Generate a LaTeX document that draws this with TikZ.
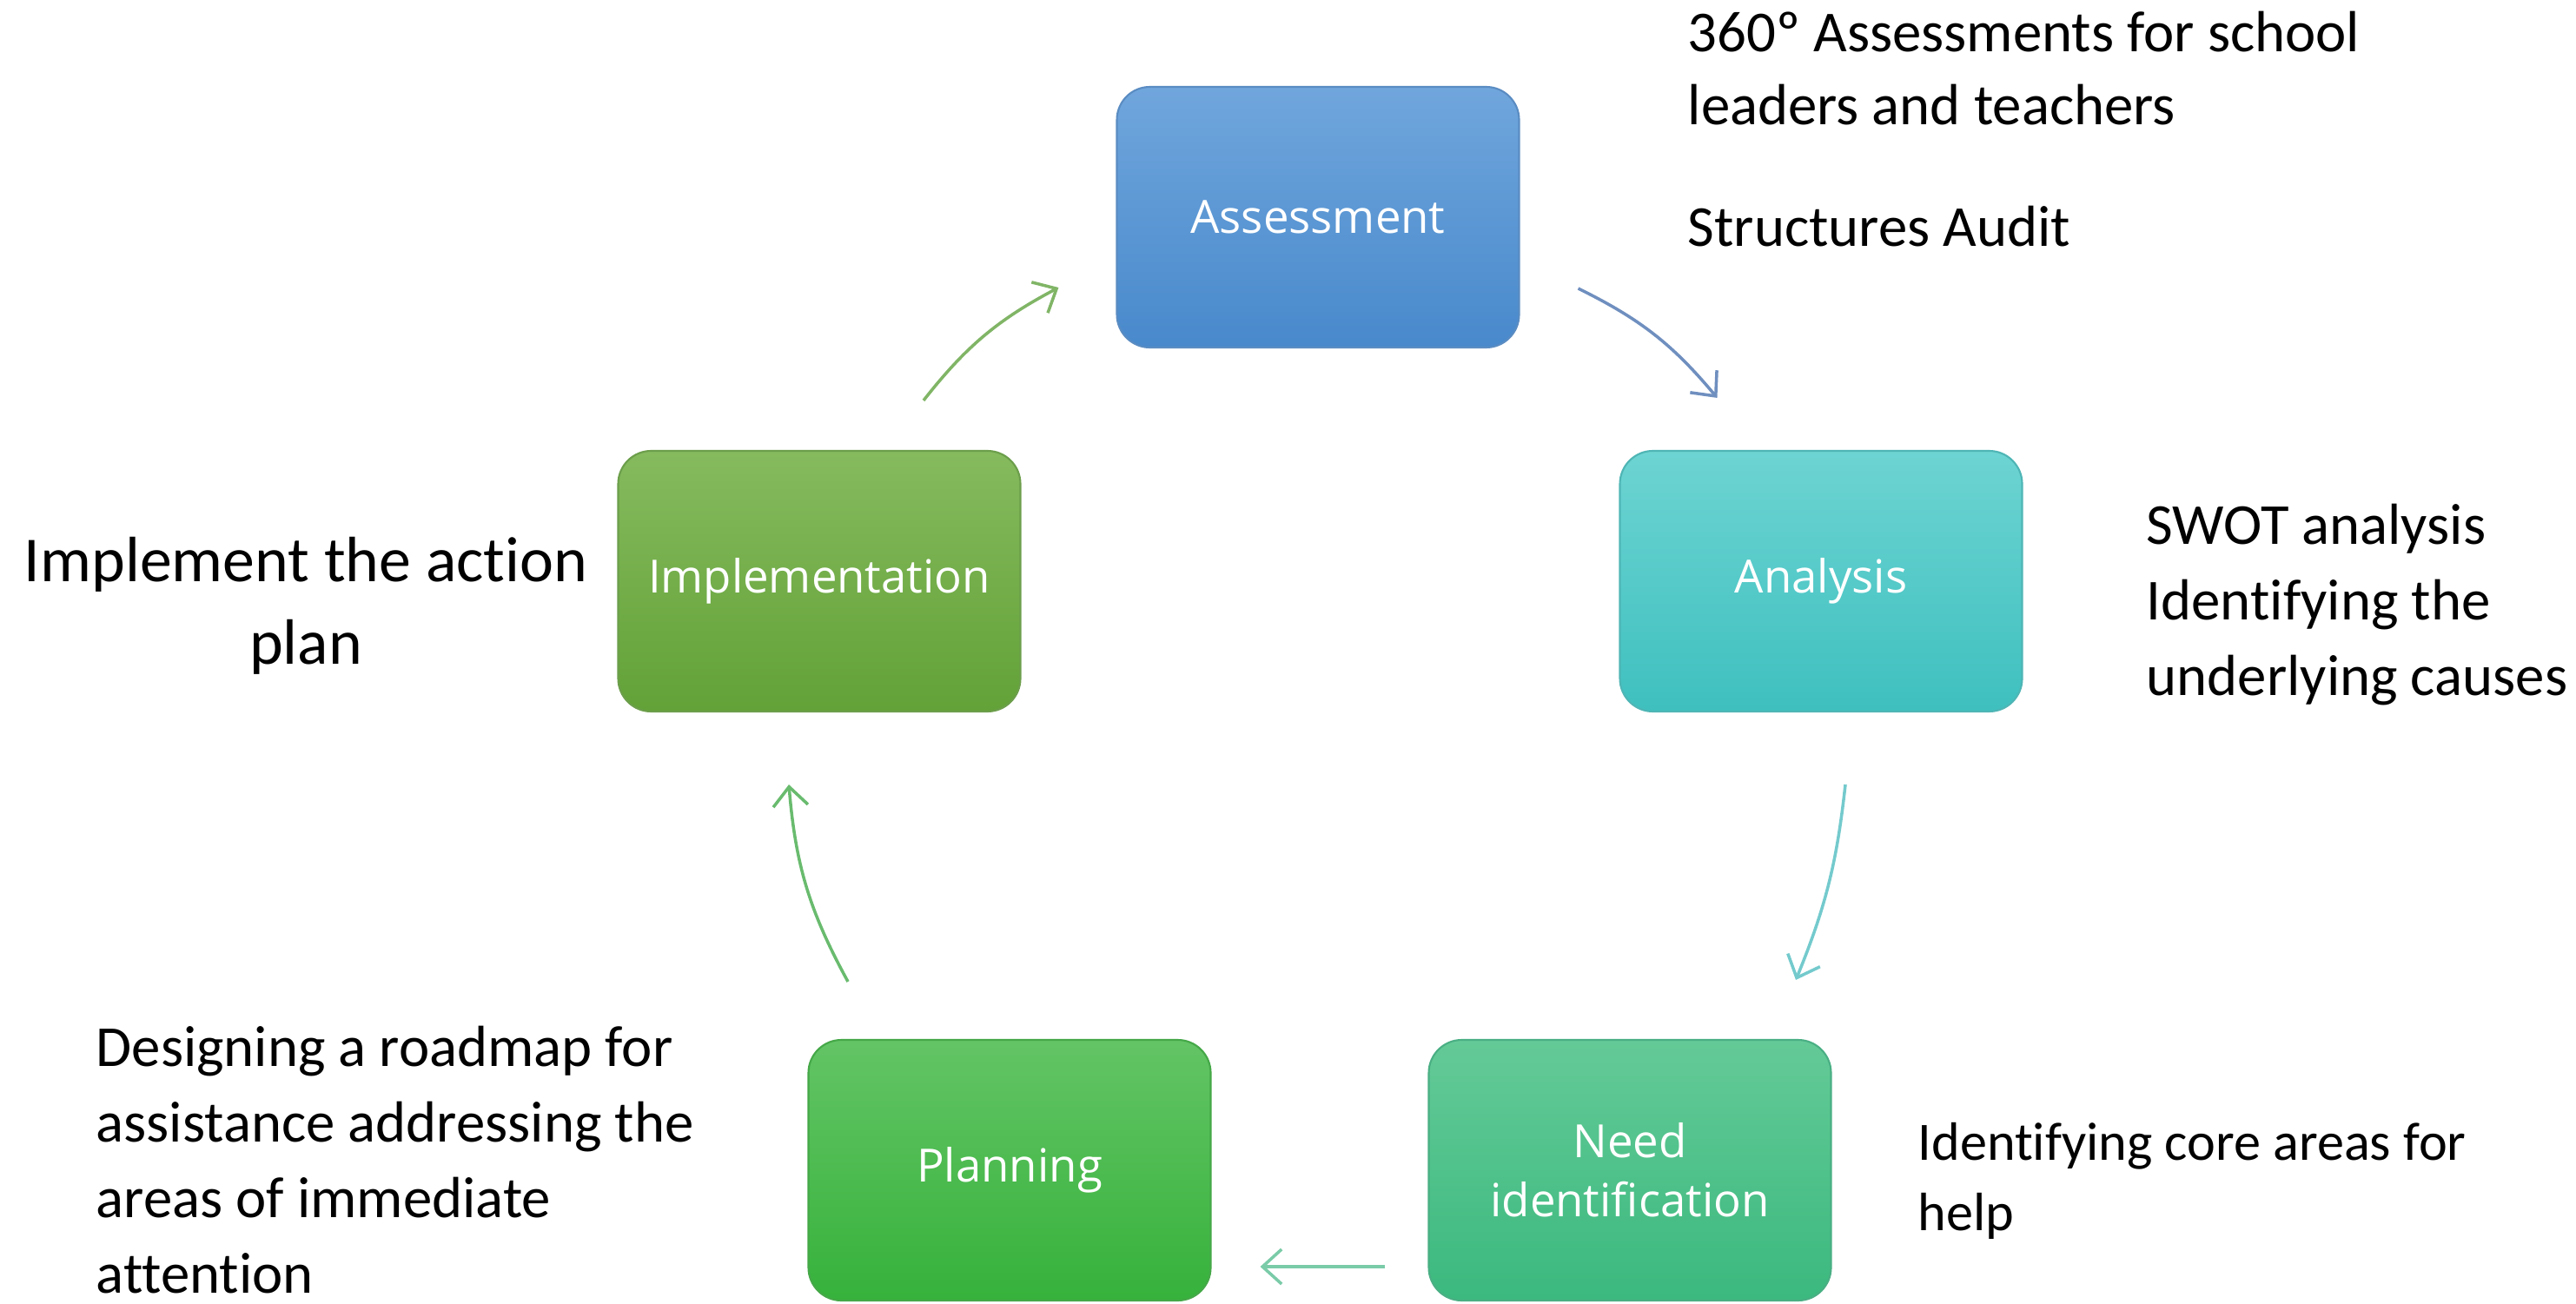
\documentclass[tikz,border=0pt]{standalone}
\usepackage{fontspec}
\setmainfont{Carlito}[Ligatures=NoCommon]
\newfontfamily\boxfont{Open Sans}
\usetikzlibrary{arrows.meta,calc}
\definecolor{asTop}{HTML}{70A6DC}\definecolor{asBot}{HTML}{4889CC}\definecolor{asEdge}{HTML}{5A8CC2}
\definecolor{anTop}{HTML}{6DD4D2}\definecolor{anBot}{HTML}{3EC0BF}\definecolor{anEdge}{HTML}{4FB5B5}
\definecolor{neTop}{HTML}{64CA97}\definecolor{neBot}{HTML}{3BB97E}\definecolor{neEdge}{HTML}{4AAF84}
\definecolor{plTop}{HTML}{63C465}\definecolor{plBot}{HTML}{36B23B}\definecolor{plEdge}{HTML}{45A848}
\definecolor{imTop}{HTML}{86BA5E}\definecolor{imBot}{HTML}{62A237}\definecolor{imEdge}{HTML}{6C9E4B}
\definecolor{arA}{HTML}{6F8FBF}\definecolor{arB}{HTML}{74CACD}\definecolor{arC}{HTML}{7ACBA8}
\definecolor{arD}{HTML}{69BB6E}\definecolor{arE}{HTML}{80B566}
\begin{document}
\begin{tikzpicture}[
  stage/.style={rounded corners=0.38cm, minimum width=4.63cm, minimum height=3.0cm,
    inner sep=0pt, align=center, text=white, line width=0.6pt,
    font=\boxfont\fontsize{15}{19.3}\selectfont},
  note/.style={inner sep=0pt, align=left, text=black},
  cyc/.style={line width=1pt, -{Straight Barb[length=0.22cm,width=0.4cm,line width=1pt]}}
]
\useasboundingbox (0,0) rectangle (29.65,15);

% stages
\node[stage, top color=asTop, bottom color=asBot, draw=asEdge] (A) at (15.17,12.50) {Assessment};
\node[stage, top color=anTop, bottom color=anBot, draw=anEdge] (B) at (20.96,8.31) {Analysis};
\node[stage, top color=neTop, bottom color=neBot, draw=neEdge] (C) at (18.76,1.53) {Need\\identification};
\node[stage, top color=plTop, bottom color=plBot, draw=plEdge] (D) at (11.62,1.53) {Planning};
\node[stage, top color=imTop, bottom color=imBot, draw=imEdge] (E) at (9.43,8.31) {Implementation};

% connector end points
\coordinate (a1) at ($(A.south east)+(0.67,0.69)$);
\coordinate (a2) at ($(B.north west)+(1.13,0.60)$);
\coordinate (b1) at ($(B.south)+(0.28,-0.83)$);
\coordinate (b2) at ($(C.north)+(1.91,0.68)$);
\coordinate (c1) at ($(C.west)+(-0.49,-1.11)$);
\coordinate (c2) at ($(D.east)+(0.56,-1.11)$);
\coordinate (d1) at ($(D.north)+(-1.86,0.66)$);
\coordinate (d2) at ($(E.south)+(-0.35,-0.83)$);
\coordinate (e1) at ($(E.north)+(1.20,0.57)$);
\coordinate (e2) at ($(A.west)+(-0.66,-0.81)$);

\draw[cyc, arA] (a1) to[bend left=12] (a2);
\draw[cyc, arB] (b1) to[bend left=8] (b2);
\draw[cyc, arC] (c1) -- (c2);
\draw[cyc, arD] (d1) to[bend left=12] (d2);
\draw[cyc, arE] (e1) to[bend left=12] (e2);

% annotations (anchor = baseline of the last line)
\node[note, anchor=base west, font=\fontsize{19}{24.1}\selectfont] (tA) at (19.42,13.56)
  {360º Assessments for school\\leaders and teachers};
\node[note, anchor=base west, font=\fontsize{19}{24.1}\selectfont] (tA2) at (19.42,12.16)
  {Structures Audit};
\node[note, anchor=base west, font=\fontsize{19}{24.7}\selectfont] (tB) at (24.70,7.00)
  {SWOT analysis\\Identifying the\\underlying causes};
\node[note, anchor=base west, font=\fontsize{17.7}{23}\selectfont] (tC) at (22.07,0.84)
  {Identifying core areas for\\help};
\node[note, anchor=base west, font=\fontsize{19}{24.7}\selectfont] (tD) at (1.10,0.12)
  {Designing a roadmap for\\assistance addressing the\\areas of immediate\\attention};
\node[note, align=center, anchor=base, font=\fontsize{21}{27}\selectfont] (tE) at (3.52,7.36)
  {Implement the action\\plan};
\end{tikzpicture}
\end{document}
